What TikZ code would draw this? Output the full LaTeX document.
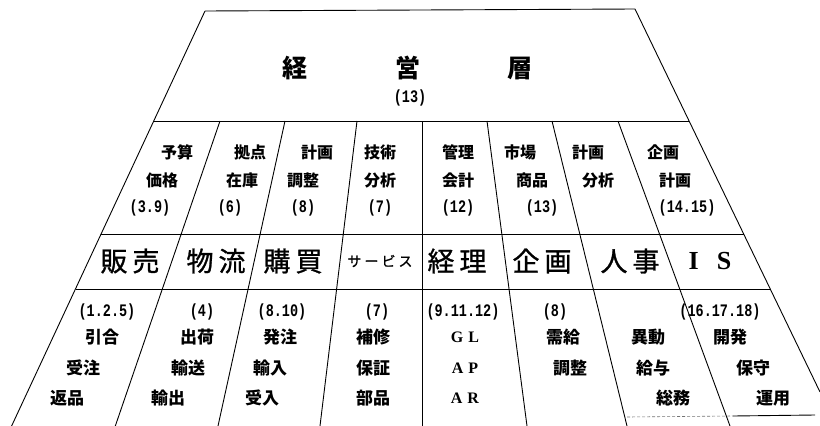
\documentclass[tikz,border=0pt]{standalone}
\usepackage{fontspec}
\newfontfamily\jpb{Noto Sans CJK JP}
\newfontfamily\jpr[FakeBold=1]{Noto Sans CJK JP}
\newfontfamily\monof{Liberation Mono}
\newfontfamily\serf{Liberation Serif}
\newcommand\nm[1]{\scalebox{1}[1.3]{#1}}
\tikzset{
  ln/.style={line width=0.9pt, black},
  lnf/.style={line width=0.6pt, black!55, dash pattern=on 3pt off 2pt},
  ttl/.style={font=\jpb\bfseries\fontsize{25}{25}\selectfont, inner sep=0pt},
  cell/.style={font=\jpb\bfseries\fontsize{16}{16}\selectfont, inner sep=0pt},
  cellb/.style={font=\jpb\bfseries\fontsize{17}{17}\selectfont, inner sep=0pt},
  num/.style={font=\monof\bfseries\fontsize{13.5}{13.5}\selectfont, inner sep=0pt},
  dept/.style={font=\jpr\fontsize{27}{27}\selectfont, inner sep=0pt},
  small/.style={font=\jpr\fontsize{14}{14}\selectfont, inner sep=0pt},
  latl/.style={font=\serf\bfseries\fontsize{16}{16}\selectfont, inner sep=0pt},
  latd/.style={font=\serf\bfseries\fontsize{26}{26}\selectfont, inner sep=0pt}
}
\begin{document}
\begin{tikzpicture}[x=1pt,y=-1pt]
\useasboundingbox (0,0) rectangle (820,426);
% frame coordinates
\coordinate (TL) at (205,11);
\coordinate (TR) at (635,9);
\coordinate (BL) at (11.6,426);
\coordinate (BR) at (820,392);
\coordinate (A1) at (153.7,121); \coordinate (B1) at (689.1,121);
\coordinate (A2) at (101.1,234); \coordinate (B2) at (743.7,234);
\coordinate (A3) at (75.5,289);  \coordinate (B3) at (770.2,289);
% outline
\draw[ln] (TL) -- (TR);
\draw[ln] (TL) -- (BL);
\draw[ln] (TR) -- (BR);
\draw[ln] (A1) -- (B1);
\draw[ln] (A2) -- (B2);
\draw[ln] (A3) -- (B3);
% dividers
\foreach \xa/\xb [count=\i] in {220/115.3, 285/218, 357/320, 422/422, 487/527, 552/627, 618/730}{
  \coordinate (U\i) at (\xa,121);
  \coordinate (D\i) at (\xb,426);
  \draw[ln] (U\i) -- (D\i);
}
\coordinate (E1) at (627,417);
\coordinate (E0) at (733,416);
\coordinate (E2) at (815,415);
\draw[lnf] (E1) -- (E0);
\draw[ln] (E0) -- (E2);
% title
\node[ttl] (t1) at (295,68) {経};
\node[ttl] (t2) at (408,68) {営};
\node[ttl] (t3) at (520,68) {層};
\node[num] (t4) at (410,98) {\nm{(13)}};
% row 1
\node[cell] (a1) at (177,152) {予算};
\node[cell] (a2) at (162,180) {価格};
\node[num]  (a3) at (150,208) {\nm{(3.9)}};
\node[cell] (b1) at (250,152) {拠点};
\node[cell] (b2) at (242,180) {在庫};
\node[num]  (b3) at (230,208) {\nm{(6)}};
\node[cell] (c1) at (317,152) {計画};
\node[cell] (c2) at (303,180) {調整};
\node[num]  (c3) at (303,208) {\nm{(8)}};
\node[cell] (d1) at (380,152) {技術};
\node[cell] (d2) at (380,180) {分析};
\node[num]  (d3) at (380,208) {\nm{(7)}};
\node[cell] (e1) at (458,152) {管理};
\node[cell] (e2) at (458,180) {会計};
\node[num]  (e3) at (458,208) {\nm{(12)}};
\node[cell] (f1) at (520,152) {市場};
\node[cell] (f2) at (532,180) {商品};
\node[num]  (f3) at (542,208) {\nm{(13)}};
\node[cell] (g1) at (588,152) {計画};
\node[cell] (g2) at (598,180) {分析};
\node[cell] (h1) at (663,152) {企画};
\node[cell] (h2) at (675,180) {計画};
\node[num]  (h3) at (687,208) {\nm{(14.15)}};
% row 2
\node[dept] (p1) at (130,261) {販\hspace{5pt}売};
\node[dept] (p2) at (216,261) {物\hspace{5pt}流};
\node[dept] (p3) at (293,261) {購\hspace{5pt}買};
\node[small] (p4) at (380,261) {サ\hspace{3pt}ー\hspace{3pt}ビ\hspace{3pt}ス};
\node[dept] (p5) at (457,261) {経\hspace{5pt}理};
\node[dept] (p6) at (542,261) {企\hspace{5pt}画};
\node[dept] (p7) at (630,261) {人\hspace{5pt}事};
\node[latd] (p8) at (710,261) {I\hspace{18pt}S};
% row 3
\node[num]   (q1) at (107,312) {\nm{(1.2.5)}};
\node[cellb] (q2) at (102,337) {引合};
\node[cellb] (q3) at (83,368) {受注};
\node[cellb] (q4) at (67,398) {返品};
\node[num]   (r1) at (202,312) {\nm{(4)}};
\node[cellb] (r2) at (197,337) {出荷};
\node[cellb] (r3) at (188,368) {輸送};
\node[cellb] (r4) at (168,398) {輸出};
\node[num]   (s1) at (282,312) {\nm{(8.10)}};
\node[cellb] (s2) at (280,337) {発注};
\node[cellb] (s3) at (270,368) {輸入};
\node[cellb] (s4) at (262,398) {受入};
\node[num]   (u1) at (377,312) {\nm{(7)}};
\node[cellb] (u2) at (373,337) {補修};
\node[cellb] (u3) at (373,368) {保証};
\node[cellb] (u4) at (373,398) {部品};
\node[num]   (v1) at (463,312) {\nm{(9.11.12)}};
\node[latl]  (v2) at (465,337) {G\hspace{5pt}L};
\node[latl]  (v3) at (465,368) {A\hspace{5pt}P};
\node[latl]  (v4) at (465,398) {A\hspace{5pt}R};
\node[num]   (w1) at (555,312) {\nm{(8)}};
\node[cellb] (w2) at (563,337) {需給};
\node[cellb] (w3) at (570,368) {調整};
\node[cellb] (x2) at (648,337) {異動};
\node[cellb] (x3) at (653,368) {給与};
\node[cellb] (x4) at (673,398) {総務};
\node[num]   (y1) at (720,312) {\nm{(16.17.18)}};
\node[cellb] (y2) at (730,337) {開発};
\node[cellb] (y3) at (753,368) {保守};
\node[cellb] (y4) at (773,398) {運用};
\end{tikzpicture}
\end{document}
